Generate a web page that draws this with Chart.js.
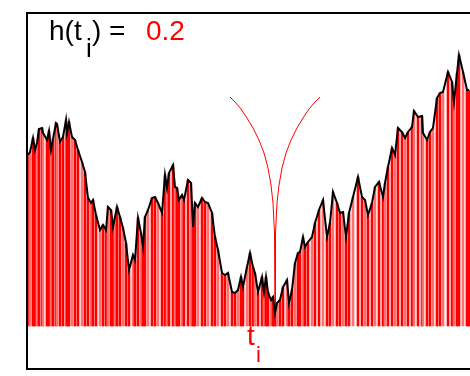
<!DOCTYPE html>
<html>
<head>
<meta charset="utf-8">
<script src="https://cdn.jsdelivr.net/npm/chart.js@4"></script>
<style>
  body { margin: 0; background: #fff; }
  #wrap { position: relative; width: 470px; height: 376px; overflow: hidden; }
  .lbl { position: absolute; font-family: "Liberation Sans", Arial, sans-serif; line-height: 1; white-space: nowrap; }
</style>
</head>
<body>
<div id="wrap">
  <canvas id="grafico" width="470" height="376"></canvas>
  <div class="lbl" style="left:49px;top:17px;font-size:28px">h(t</div>
  <div class="lbl" style="left:86px;top:35px;font-size:26px">i</div>
  <div class="lbl" style="left:92px;top:17px;font-size:28px">) =</div>
  <div class="lbl" style="left:146px;top:17px;font-size:28px;color:#ff0000">0.2</div>
  <div class="lbl" style="left:247px;top:322px;font-size:28px;color:#ff0000">t</div>
  <div class="lbl" style="left:256px;top:344px;font-size:22px;color:#ff0000">i</div>
</div>
<script>
// ======== DADOS ========
// posição no tempo (eixo x) e altura do sinal acima da base
const tempos = [28,30,33,35,37,39,42,43,47,49,51,53,56,57,60,63,66,67,69,72,75,78,82,85,88,91,93,96,100,103,106,108,111,113,115,117,120,123,126,129,133,135,138,141,143,145,148,152,155,158,162,165,167,169,173,175,177,179,182,184,188,191,193,195,198,202,205,208,212,215,218,222,225,228,232,235,238,241,243,247,250,253,255,258,262,264,266,268,271,273,275,277,280,283,287,289,292,295,298,300,303,305,308,312,315,319,323,327,330,333,337,340,343,346,349,353,358,362,365,368,372,375,379,383,385,388,392,395,398,402,405,408,412,414,418,422,423,427,430,433,437,440,443,448,452,454,457,459,463,467,469];
const sinal = [171,174,188,176,183,197,198,193,186,195,176,187,203,202,184,189,206,193,204,189,186,176,164,154,128,123,126,111,96,101,96,119,116,99,109,119,109,98,83,56,71,66,108,93,79,109,116,128,129,123,113,151,138,153,161,139,138,126,131,126,146,143,99,123,119,128,124,123,113,89,76,53,51,53,34,33,36,49,39,59,73,59,53,34,49,34,49,34,26,29,13,23,26,39,46,23,36,63,73,74,89,79,84,89,103,116,126,89,103,134,123,113,114,89,113,129,149,129,126,111,123,139,144,129,143,159,178,171,198,194,188,194,199,215,209,210,193,186,194,198,228,233,234,254,244,224,253,271,254,236,236];

// curva |t - ti|^h (h = 0.2, ti = 275)
const cuspideX = [230,235,241,247,253,259,264,268,271,273,274.5,275,275.5,277,279,282,286,291,297,303,309,315,320];
const cuspideY = [229,224,217,208,198,186,173,158,141,123,93,0,93,123,141,158,173,186,198,208,217,224,229];

const pontos = tempos.map((t, i) => ({ x: t, y: sinal[i] }));
const cuspide = cuspideX.map((t, i) => ({ x: t, y: cuspideY[i] }));

// ======== MOLDURA ========
const moldura = {
  id: 'moldura',
  afterDraw(chart) {
    const ctx = chart.ctx;
    ctx.save();
    ctx.strokeStyle = '#000';
    ctx.lineWidth = 2;
    ctx.strokeRect(27, 13, 470, 356);
    ctx.restore();
  }
};

// ======== GRÁFICO ========
const ctx = document.getElementById('grafico').getContext('2d');
new Chart(ctx, {
  type: 'bar',
  data: {
    datasets: [
      {
        type: 'line',
        data: pontos,
        borderColor: '#000',
        borderWidth: 2,
        pointRadius: 0,
        tension: 0,
        order: 0
      },
      {
        type: 'line',
        data: cuspide,
        borderColor: '#ff0000',
        borderWidth: 1,
        pointRadius: 0,
        tension: 0,
        order: 1
      },
      {
        type: 'bar',
        data: pontos,
        backgroundColor: c => (c.dataIndex % 3 === 1 ? '#ff7070' : '#ff0000'),
        barThickness: 2,
        order: 2
      }
    ]
  },
  options: {
    responsive: false,
    animation: false,
    layout: { padding: { left: 28, top: 12, right: 0, bottom: 7 } },
    plugins: { legend: { display: false }, tooltip: { enabled: false } },
    scales: {
      x: { type: 'linear', min: 28, max: 470, offset: false, display: false },
      y: { min: -43, max: 314, display: false }
    }
  },
  plugins: [moldura]
});
</script>
</body>
</html>
